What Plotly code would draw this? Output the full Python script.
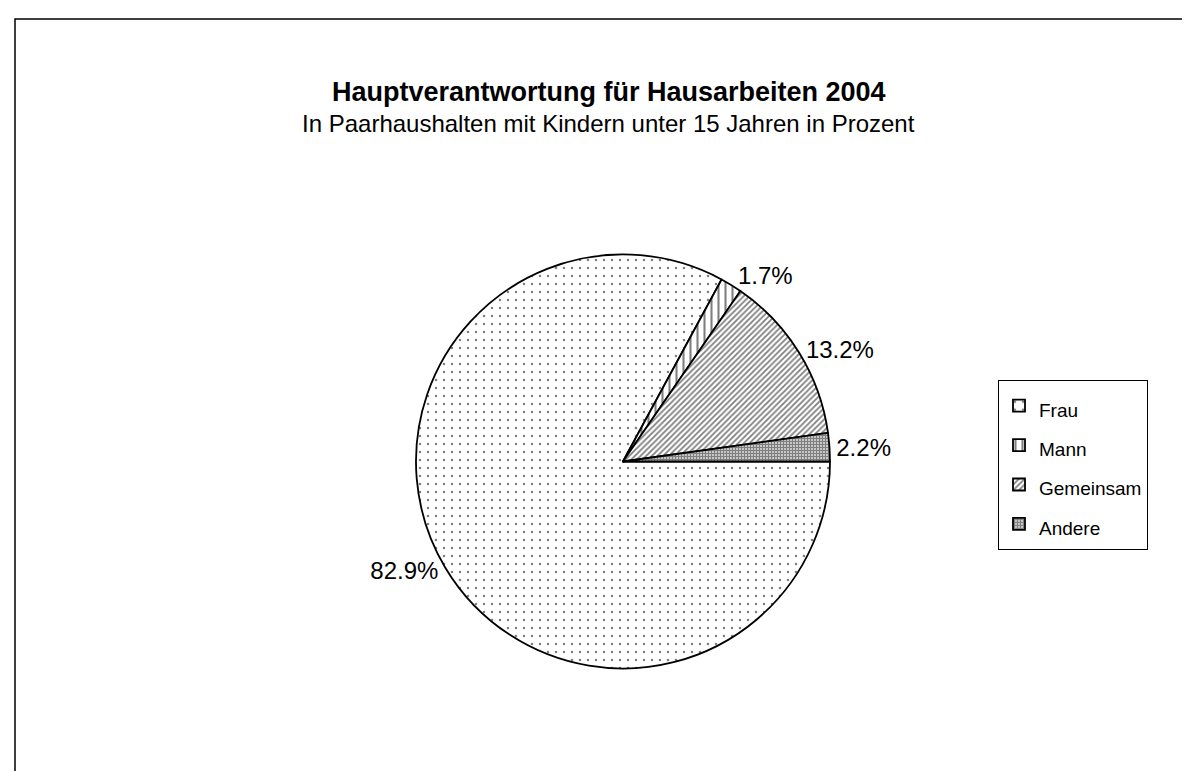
import plotly.graph_objects as go

labels = ["Frau", "Mann", "Gemeinsam", "Andere"]
values = [82.9, 1.7, 13.2, 2.2]
patterns = [".", "|", "/", "+"]
pattern_sizes = [8, 7, 4, 3]
pattern_solidity = [0.08, 0.3, 0.45, 0.75]

title_text = "Hauptverantwortung für Hausarbeiten 2004"
subtitle_text = "In Paarhaushalten mit Kindern unter 15 Jahren in Prozent"

W, H = 1190, 771
FONT = "Liberation Sans, Arial, sans-serif"
LEGEND_TEXT_SIZE = 19

legend_labels = [f"<span style='font-size:{LEGEND_TEXT_SIZE}px'>{name}</span>" for name in labels]

fig = go.Figure(
    go.Pie(
        labels=legend_labels,
        values=values,
        sort=False,
        direction="clockwise",
        rotation=90,
        textposition="outside",
        texttemplate="%{percent:.1%}",
        textfont=dict(family=FONT, size=24, color="black"),
        marker=dict(
            colors=["white"] * 4,
            line=dict(color="black", width=1.8),
            pattern=dict(
                shape=patterns,
                size=pattern_sizes,
                solidity=pattern_solidity,
                fgcolor="black",
                bgcolor="white",
                fillmode="overlay",
            ),
        ),
        domain=dict(x=[408 / W, 822 / W], y=[1 - 661 / H, 1 - 246 / H]),
        hoverinfo="percent",
    )
)

fig.update_layout(
    width=W,
    height=H,
    margin=dict(l=0, r=0, t=0, b=0),
    paper_bgcolor="white",
    plot_bgcolor="white",
    font=dict(family=FONT, color="black"),
    showlegend=True,
    legend=dict(
        x=990 / W,
        y=1 - 372 / H,
        xanchor="left",
        yanchor="top",
        bordercolor="black",
        borderwidth=1,
        bgcolor="white",
        itemwidth=30,
        font=dict(family=FONT, size=28, color="black"),
    ),
    annotations=[
        dict(text="<b>" + title_text + "</b>", x=0.505, y=1 - 84 / H, xref="paper", yref="paper",
             showarrow=False, font=dict(family=FONT, size=27, color="black"), xanchor="center", yanchor="middle"),
        dict(text=subtitle_text, x=0.505, y=1 - 115 / H, xref="paper", yref="paper",
             showarrow=False, font=dict(family=FONT, size=24, color="black"), xanchor="center", yanchor="middle"),
    ],
    shapes=[
        dict(type="rect", xref="paper", yref="paper", x0=7 / W, x1=1.05, y0=-0.05, y1=1 - 11 / H,
             line=dict(color="black", width=1.5), fillcolor="rgba(0,0,0,0)", layer="below"),
    ],
)

fig.write_html("out.html")
